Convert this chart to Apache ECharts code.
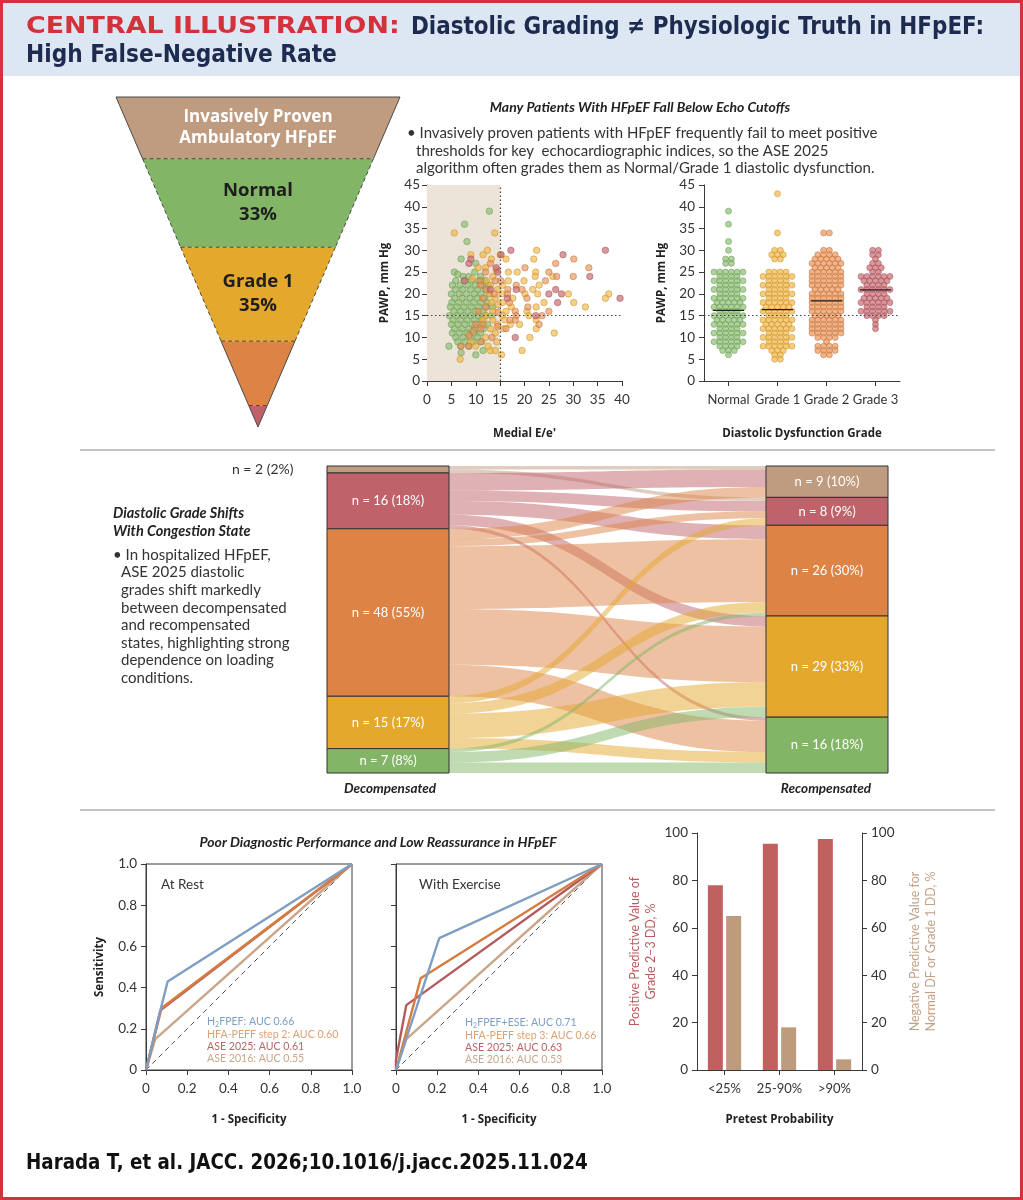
<!DOCTYPE html>
<html><head><meta charset="utf-8">
<script src="https://cdn.jsdelivr.net/npm/echarts@6/dist/echarts.min.js"></script>
<style>html,body{margin:0;padding:0;background:#fff}#c{width:1023px;height:1200px}</style>
</head><body><div id="c"></div>
<script>
// ================= DATA =================
// Funnel (ASE 2025 grade among invasively proven HFpEF)
const funnelHeader = 'Invasively Proven\nAmbulatory HFpEF';
const funnelGroups = ['Normal', 'Grade 1', 'Grade 2', 'Grade 3'];
const funnelPct = [33, 35, 24, 8];
const funnelShowLabel = [true, true, false, false];

// Scatter: [Medial E/e', PAWP]
const scatterNormal = [
 [12.8,39],[7.7,36],[8.2,32],[7,28],[10,27],[5.6,25],[7.4,24],[8.6,24],[9.8,25],[11,24],[6.3,24.5],
 [5.9,23],[7.6,23],[9.1,23],[10.6,23],[11.9,23],
 [5.2,22],[6.8,22],[8.4,22],[9.9,22],[11.3,22],[12.6,22],
 [5.8,21],[7.3,21],[8.9,21],[10.4,21],[12.0,21],
 [5.0,20],[6.6,20],[8.1,20],[9.7,20],[11.1,20],[12.8,20],
 [5.7,19],[7.2,19],[8.8,19],[10.3,19],[11.8,19],
 [5.1,18],[6.5,18],[8.0,18],[9.5,18],[11.0,18],[12.4,18],
 [4.8,17],[6.2,17],[7.6,17],[9.1,17],[10.6,17],[12.2,17],[13.4,17],
 [5.5,16],[6.9,16],[8.4,16],[9.9,16],[11.5,16],
 [4.6,15],[6.1,15],[7.5,15],[9.0,15],[10.5,15],[12.0,15],[13.2,15],
 [5.3,14],[6.8,14],[8.2,14],[9.7,14],[11.2,14],
 [5.0,13],[6.4,13],[7.8,13],[9.3,13],[10.8,13],[12.4,13],
 [5.6,12],[7.1,12],[8.6,12],[10.0,12],[11.6,12],
 [5.2,11],[6.7,11],[8.2,11],[9.6,11],[11.0,11],
 [5.9,10],[7.4,10],[8.9,10],[10.4,10],
 [6.3,9],[7.8,9],[9.5,9],[11.2,9],
 [6.9,8],[8.6,8],[4.5,8],[10,6],[11.5,7],[7,6.5]
];
const scatterGrade1 = [
 [5.6,34],[13.9,34],[12.4,30],[15,29],[9,29],[11.5,29],[13.2,28],[16.2,28],[21.9,28],[22.5,30],
 [10.5,26],[12,26],[14.2,25.5],[16.7,25],[18.5,25],[22.3,25],[13.5,24],[9.3,23.5],[22.2,24],[25.8,24],
 [16.7,23],[19.9,23],[12.2,23],[15.5,22],[23,22],[13,22],[14.5,21],[21.7,21],[15.4,20],[12.8,20],
 [20.1,20],[22.7,20],[29,20],[37.3,20],[14,19],[17.6,19],[36.6,19],[15.5,18],[13.2,18],[24,18],
 [30.1,18],[17.3,17],[22.4,17],[32.5,17],[14.6,17.5],[16.2,16],[20.5,16],[13.5,16],[15.5,15],[20.9,15],
 [12,15],[15.9,14],[22.4,14],[13.5,14],[11.5,14],[17.1,13],[19,13],[14.5,13],[15.7,12],[22.4,12],
 [13,12],[26.1,11],[21.1,10],[14,11],[12,10],[14.3,9],[19.5,7],[15.3,6],[13,7],[14,7],
 [6.8,5],[10,8],[12.5,8],[9,9]
];
const scatterGrade2 = [
 [20.1,26],[33.2,26],[26.4,27],[30.1,28],[30,24],[26.6,24],[24.3,23],[18.3,22],[16.6,21],[20.5,19],
 [16.9,18],[20.7,17],[18.1,16],[25,16],[18.3,15],[23.6,15],[18.1,14],[23,13],[13,27],[12,25],
 [11,23],[14,23],[11,22],[12.2,21],[13.8,20],[11.5,19],[12,17],[10.5,16],[14.6,15.8],[11.5,13],
 [14.5,12.5],[11,12],[13.3,10],[11,9],[8.5,8],[7,8],[8.6,10.5],[9.5,11.5],[10,13],[16.5,20],
 [17,14],[15.2,23],[16.2,12],[19.5,21],[25,25]
];
const scatterGrade3 = [
 [17.2,30],[27.9,29],[36.6,30],[33.4,24],[39.6,19],[26.4,21],[26.8,18],[25,20],[27.6,20],[18.3,21],
 [18.1,10],[14.2,26],[14.5,25],[8.6,27],[7.7,23],[9,28],[15.2,29],[22.3,15],[16.5,19],[13,21]
];

// Dot plot: [PAWP, number of patients] per grade
const gradeCats = ['Normal', 'Grade 1', 'Grade 2', 'Grade 3'];
const dotNormal = [[39,1],[36,1],[32,1],[30,1],[28,2],[27,2],[25,6],[24,4],[23,6],[22,4],[21,6],[20,4],[19,6],[18,5],[17,6],[16,4],[15,6],[14,5],[13,6],[12,4],[11,6],[10,4],[9,6],[8,4],[7,3],[6,1]];
const dotGrade1 = [[43,1],[34,1],[30,2],[29,3],[28,2],[25,4],[24,6],[23,4],[22,6],[21,4],[20,6],[19,4],[18,6],[17,5],[16,6],[15,4],[14,6],[13,5],[12,6],[11,4],[10,6],[9,4],[8,6],[7,3],[6,2],[5,2]];
const dotGrade2 = [[34,2],[30,2],[29,4],[28,5],[27,6],[26,5],[25,6],[24,6],[23,6],[22,6],[21,5],[20,6],[19,6],[18,6],[17,6],[16,6],[15,5],[14,6],[13,6],[12,6],[11,6],[10,4],[9,1],[8,4],[7,4],[6,2]];
const dotGrade3 = [[30,2],[29,2],[28,1],[27,2],[26,3],[25,2],[24,6],[23,5],[22,4],[21,6],[20,4],[19,5],[18,6],[17,4],[16,6],[15,4],[14,1],[13,1],[12,1]];
const gradeMeans = [16.2, 16.4, 18.4, 20.9];
const pawpCutoff = 15;
const eeCutoff = 15;

// Sankey
const sankeyLeftN = [2, 16, 48, 15, 7];   // Decompensated: other, G3, G2, G1, Normal
const sankeyRightN = [9, 8, 26, 29, 16];  // Recompensated
const sankeyFlows = [
 [1, 1, 0, 0, 0],
 [5, 3, 4, 3, 1],
 [3, 2, 18, 16, 9],
 [0, 2, 3, 7, 3],
 [0, 0, 1, 3, 3]
];

// ROC curves: [1-specificity, sensitivity]
const rocRestH2 = [[0,0],[0.065,0.27],[0.105,0.43],[1,1]];
const rocRestHFA = [[0,0],[0.075,0.30],[1,1]];
const rocRestASE25 = [[0,0],[0.07,0.29],[1,1]];
const rocRestASE16 = [[0,0],[0.045,0.15],[1,1]];
const rocRestLegend = ['H2FPEF: AUC 0.66', 'HFA-PEFF step 2: AUC 0.60', 'ASE 2025: AUC 0.61', 'ASE 2016: AUC 0.55'];
const rocExH2 = [[0,0],[0.21,0.64],[1,1]];
const rocExHFA = [[0,0],[0.12,0.445],[1,1]];
const rocExASE25 = [[0,0],[0,0.05],[0.05,0.315],[1,1]];
const rocExASE16 = [[0,0],[0.05,0.15],[1,1]];
const rocExLegend = ['H2FPEF+ESE: AUC 0.71', 'HFA-PEFF step 3: AUC 0.66', 'ASE 2025: AUC 0.63', 'ASE 2016: AUC 0.53'];

// Predictive values
const pretestCats = ['<25%', '25-90%', '>90%'];
const ppvValues = [78, 95.5, 97.5];
const npvValues = [65, 18, 4.5];

// ================= STYLE =================
const C = {
  brown: '#bf9b80', red: '#c0626a', orange: '#dd8346', yellow: '#e4a82d', green: '#82b566',
  ink: '#333333', axis: '#3a3a3a',
  blue: '#7f9ec3', rocOrange: '#d57c40', rocRed: '#b45a5c', tan: '#c9a78b'
};
const FB = 'Lato, "Open Sans", sans-serif';
const FN = '"DejaVu Sans", sans-serif';

function axisBase(extra) {
  return Object.assign({
    axisLine: { show: true, onZero: false, lineStyle: { color: C.axis, width: 1 } },
    axisTick: { show: true, length: 5, lineStyle: { color: C.axis } },
    axisLabel: { color: C.ink, fontSize: 13.5, fontFamily: FB },
    splitLine: { show: false },
    nameTextStyle: { color: '#222', fontSize: 11.5, fontWeight: 'bold', fontFamily: '"Open Sans", sans-serif' }
  }, extra);
}

// ---------- funnel geometry (from data) ----------
const HEADER_U = 23;
const funnelTotal = funnelPct.reduce((a, b) => a + b, 0) + HEADER_U;
const funnelItems = [];
(function () {
  let top = funnelTotal;
  funnelItems.push({ y1: top, y0: top - HEADER_U, color: C.brown, text: funnelHeader, header: true, dashedSides: false });
  top -= HEADER_U;
  const cols = [C.green, C.yellow, C.orange, C.red];
  funnelPct.forEach((p, i) => {
    funnelItems.push({
      y1: top, y0: top - p, color: cols[i],
      text: funnelShowLabel[i] ? funnelGroups[i] + '\n' + p + '%' : '',
      header: false, dashedSides: i < 2
    });
    top -= p;
  });
})();

// ---------- dot plot layout (beeswarm rows) ----------
function swarm(counts, gi) {
  const out = [];
  counts.forEach(([v, n]) => {
    for (let k = 0; k < n; k++) out.push([gi + 0.5 + (k - (n - 1) / 2) * 0.118, v]);
  });
  return out;
}

// ---------- sankey nodes/links ----------
const sankeyColors = [C.brown, C.red, C.orange, C.yellow, C.green];
const totalL = sankeyLeftN.reduce((a, b) => a + b, 0);
const totalR = sankeyRightN.reduce((a, b) => a + b, 0);
const sNodes = [];
sankeyLeftN.forEach((n, i) => {
  const lab = 'n = ' + n + ' (' + Math.round(n / totalL * 100) + '%)';
  sNodes.push({
    name: 'L' + i, depth: 0, itemStyle: { color: sankeyColors[i] },
    label: i === 0 ? { show: true, position: 'left', distance: 33, color: '#333', fontSize: 14, formatter: lab }
                   : { show: true, position: 'inside', color: '#fff', formatter: lab }
  });
});
sankeyRightN.forEach((n, i) => {
  sNodes.push({ name: 'R' + i, depth: 1, itemStyle: { color: sankeyColors[i] },
    label: { show: true, position: 'inside', color: '#fff', formatter: 'n = ' + n + ' (' + Math.round(n / totalR * 100) + '%)' } });
});
const sLinks = [];
sankeyFlows.forEach((row, i) => row.forEach((v, j) => { if (v > 0) sLinks.push({ source: 'L' + i, target: 'R' + j, value: v }); }));

function rocLine(data, color, width, xi, yi, z, dash) {
  return { type: 'line', xAxisIndex: xi, yAxisIndex: yi, data: data, symbol: 'none', silent: true, z: z || 3,
    lineStyle: { color: color, width: width, type: dash || 'solid' }, animation: false };
}

// ================= TEXT =================
const T = [];
function txt(x, y, text, o, sx) {
  const el = { type: 'text', x: x, y: y, silent: true, z: 100, style: Object.assign({
    text: text, fill: C.ink, fontSize: 15, fontFamily: FB, textAlign: 'left', textVerticalAlign: 'middle'
  }, o || {}) };
  if (sx) el.scaleX = sx;
  T.push(el);
}
// frame + header
T.push({ type: 'rect', shape: { x: 2, y: 2, width: 1019, height: 74 }, style: { fill: '#dde6f3' }, z: 1, silent: true });
T.push({ type: 'rect', shape: { x: 1.5, y: 1.5, width: 1020, height: 1197 }, style: { fill: 'none', stroke: '#d2343d', lineWidth: 3 }, z: 101, silent: true });
txt(26, 27, 'CENTRAL ILLUSTRATION:', { fill: '#d4323b', fontSize: 23.5, fontWeight: 'bold', fontFamily: FN }, 1.144);
txt(411, 27, 'Diastolic Grading \u2260 Physiologic Truth in HFpEF:', { fill: '#1c2b4f', fontSize: 25, fontWeight: 'bold', fontFamily: FN }, 0.86);
txt(26, 55, 'High False-Negative Rate', { fill: '#1c2b4f', fontSize: 25, fontWeight: 'bold', fontFamily: FN }, 0.87);
// separators
T.push({ type: 'line', shape: { x1: 80, y1: 450, x2: 995, y2: 450 }, style: { stroke: '#8a8a8a', lineWidth: 1 }, silent: true });
T.push({ type: 'line', shape: { x1: 80, y1: 810, x2: 995, y2: 810 }, style: { stroke: '#8a8a8a', lineWidth: 1 }, silent: true });
// panel A text
txt(640, 107, 'Many Patients With HFpEF Fall Below Echo Cutoffs', { textAlign: 'center', fontSize: 14, fontWeight: 'bold', fontStyle: 'italic', fill: '#222' });
txt(407, 133, '\u2022 Invasively proven patients with HFpEF frequently fail to meet positive');
txt(416, 151, 'thresholds for key  echocardiographic indices, so the ASE 2025');
txt(416, 168, 'algorithm often grades them as Normal/Grade 1 diastolic dysfunction.');
// panel B text
txt(113, 513, 'Diastolic Grade Shifts', { fontSize: 14.5, fontWeight: 'bold', fontStyle: 'italic', fill: '#222' });
txt(113, 531, 'With Congestion State', { fontSize: 14.5, fontWeight: 'bold', fontStyle: 'italic', fill: '#222' });
const bLines = ['In hospitalized HFpEF,', 'ASE 2025 diastolic', 'grades shift markedly', 'between decompensated',
  'and recompensated', 'states, highlighting strong', 'dependence on loading', 'conditions.'];
bLines.forEach((s, i) => txt(i === 0 ? 113 : 121, 555 + i * 17.6, (i === 0 ? '\u2022 ' : '') + s));
txt(390, 789, 'Decompensated', { textAlign: 'center', fontSize: 13.5, fontWeight: 'bold', fontStyle: 'italic', fill: '#222' });
txt(826, 789, 'Recompensated', { textAlign: 'center', fontSize: 13.5, fontWeight: 'bold', fontStyle: 'italic', fill: '#222' });
// panel C text
txt(378, 842, 'Poor Diagnostic Performance and Low Reassurance in HFpEF', { textAlign: 'center', fontSize: 14, fontWeight: 'bold', fontStyle: 'italic', fill: '#222' });
txt(161, 885, 'At Rest', { fontSize: 13.5 });
txt(419, 885, 'With Exercise', { fontSize: 13.5 });
const legCols = [C.blue, '#dba173', '#b86468', C.tan];
function rocLegend(x, y0, labels) {
  labels.forEach((s, i) => {
    let t = s.indexOf('H2') === 0 ? '{a|H}{s|2}{a|' + s.slice(2) + '}' : '{a|' + s + '}';
    txt(x, y0 + i * 12.3, t, { rich: {
      a: { fill: legCols[i], fontSize: 10.6, fontFamily: FB },
      s: { fill: legCols[i], fontSize: 7, fontFamily: FB, padding: [5, 0, 0, 0] } } });
  });
}
rocLegend(207, 1022, rocRestLegend);
rocLegend(465, 1023, rocExLegend);
// footer
txt(26, 1164, 'Harada T, et al. JACC. 2026;10.1016/j.jacc.2025.11.024', { fontSize: 21, fontWeight: 'bold', fontFamily: FN, fill: '#111' }, 0.871);

// ================= OPTION =================
const scatterStyle = (fill, stroke) => ({ color: fill, borderColor: stroke, borderWidth: 0.7 });
const option = {
  animation: false,
  backgroundColor: '#ffffff',
  graphic: T,
  grid: [
    { left: 116, top: 97, width: 284, height: 330 },            // 0 funnel
    { left: 427, top: 185, width: 195, height: 196 },           // 1 E/e' scatter
    { left: 704, top: 185, width: 196, height: 196 },           // 2 dot plot
    { left: 146, top: 864, width: 206, height: 206, show: true, borderColor: '#3a3a3a', borderWidth: 1 }, // 3 ROC rest
    { left: 396, top: 864, width: 206, height: 206, show: true, borderColor: '#3a3a3a', borderWidth: 1 }, // 4 ROC exercise
    { left: 697, top: 833, width: 165, height: 237 }            // 5 bars
  ],
  xAxis: [
    { gridIndex: 0, type: 'value', min: 0, max: 1, show: false },
    axisBase({ gridIndex: 1, type: 'value', min: 0, max: 40, interval: 5, name: "Medial E/e'", nameLocation: 'middle', nameGap: 47,
      axisLabel: { color: C.ink, fontSize: 13.5, fontFamily: FB, margin: 12 } }),
    axisBase({ gridIndex: 2, type: 'category', data: gradeCats, boundaryGap: true, name: 'Diastolic Dysfunction Grade', nameLocation: 'middle', nameGap: 47,
      axisTick: { show: true, alignWithLabel: true, length: 5, lineStyle: { color: C.axis } },
      axisLabel: { color: C.ink, fontSize: 13, fontFamily: FB, margin: 12, interval: 0 } }),
    { gridIndex: 2, type: 'value', min: 0, max: 4, show: false },
    axisBase({ gridIndex: 3, type: 'value', min: 0, max: 1, interval: 0.2, name: '1 - Specificity', nameLocation: 'middle', nameGap: 44,
      axisLabel: { color: C.ink, fontSize: 13.5, fontFamily: FB, margin: 12, formatter: v => v === 0 ? '0' : v.toFixed(1) } }),
    axisBase({ gridIndex: 4, type: 'value', min: 0, max: 1, interval: 0.2, name: '1 - Specificity', nameLocation: 'middle', nameGap: 44,
      axisLabel: { color: C.ink, fontSize: 13.5, fontFamily: FB, margin: 12, formatter: v => v === 0 ? '0' : v.toFixed(1) } }),
    axisBase({ gridIndex: 5, type: 'category', data: pretestCats, name: 'Pretest Probability', nameLocation: 'middle', nameGap: 44,
      axisTick: { show: true, alignWithLabel: true, length: 5, lineStyle: { color: C.axis } },
      axisLabel: { color: C.ink, fontSize: 13, fontFamily: FB, margin: 12, interval: 0 } })
  ],
  yAxis: [
    { gridIndex: 0, type: 'value', min: 0, max: funnelTotal, show: false },
    axisBase({ gridIndex: 1, type: 'value', min: 0, max: 45, interval: 5, name: 'PAWP, mm Hg', nameLocation: 'middle', nameGap: 36,
      axisLabel: { color: C.ink, fontSize: 13.5, fontFamily: FB, margin: 7 } }),
    axisBase({ gridIndex: 2, type: 'value', min: 0, max: 45, interval: 5, name: 'PAWP, mm Hg', nameLocation: 'middle', nameGap: 36,
      axisLabel: { color: C.ink, fontSize: 13.5, fontFamily: FB, margin: 9 } }),
    axisBase({ gridIndex: 3, type: 'value', min: 0, max: 1, interval: 0.2, name: 'Sensitivity', nameLocation: 'middle', nameGap: 40,
      axisLabel: { color: C.ink, fontSize: 13.5, fontFamily: FB, margin: 9, formatter: v => v === 0 ? '0' : v.toFixed(1) } }),
    axisBase({ gridIndex: 4, type: 'value', min: 0, max: 1, interval: 0.2, axisLabel: { show: false } }),
    axisBase({ gridIndex: 5, type: 'value', min: 0, max: 100, interval: 20, position: 'left',
      name: 'Positive Predictive Value of\nGrade 2\u20133 DD, %', nameLocation: 'middle', nameGap: 38,
      nameTextStyle: { color: '#b95a5c', fontSize: 12.5, fontFamily: FB, lineHeight: 16 },
      axisLabel: { color: C.ink, fontSize: 13.5, fontFamily: FB, margin: 9 } }),
    axisBase({ gridIndex: 5, type: 'value', min: 0, max: 100, interval: 20, position: 'right',
      name: 'Negative Predictive Value for\nNormal DF or Grade 1 DD, %', nameLocation: 'middle', nameGap: 45, nameRotate: 90,
      nameTextStyle: { color: '#c4a186', fontSize: 12.5, fontFamily: FB, lineHeight: 16 },
      axisLabel: { color: C.ink, fontSize: 13.5, fontFamily: FB, margin: 9 } })
  ],
  series: [
    // ---- funnel ----
    {
      type: 'custom', xAxisIndex: 0, yAxisIndex: 0, silent: true, z: 2,
      data: funnelItems.map((f, i) => [i, f.y0, f.y1]),
      renderItem: function (params, api) {
        const f = funnelItems[params.dataIndex];
        const y0 = api.value(1), y1 = api.value(2);
        const hw = y => 0.5 * y / funnelTotal;
        const p = (x, y) => api.coord([x, y]);
        const a = p(0.5 - hw(y1), y1), b = p(0.5 + hw(y1), y1), c = p(0.5 + hw(y0), y0), d = p(0.5 - hw(y0), y0);
        const edge = '#4a4a4a';
        const kids = [
          { type: 'polygon', shape: { points: [a, b, c, d] }, style: { fill: f.color } },
          { type: 'line', shape: { x1: a[0], y1: a[1], x2: b[0], y2: b[1] },
            style: { stroke: edge, lineWidth: 1, lineDash: f.header ? null : [4, 3] } },
          { type: 'line', shape: { x1: a[0], y1: a[1], x2: d[0], y2: d[1] },
            style: { stroke: edge, lineWidth: 1, lineDash: f.dashedSides ? [4, 3] : null } },
          { type: 'line', shape: { x1: b[0], y1: b[1], x2: c[0], y2: c[1] },
            style: { stroke: edge, lineWidth: 1, lineDash: f.dashedSides ? [4, 3] : null } }
        ];
        if (f.text) {
          const m = p(0.5, (y0 + y1) / 2);
          kids.push({ type: 'text', x: m[0], y: m[1], style: {
            text: f.text, textAlign: 'center', textVerticalAlign: 'middle',
            fill: f.header ? '#ffffff' : '#1e1e1e', fontSize: f.header ? 17 : 18.5, fontWeight: 'bold',
            fontFamily: '"Open Sans", Lato, sans-serif', lineHeight: f.header ? 21 : 24 } });
        }
        return { type: 'group', children: kids };
      }
    },
    // ---- E/e' scatter: shaded zone + cut-off lines (no points) ----
    {
      type: 'scatter', xAxisIndex: 1, yAxisIndex: 1, data: [], z: 1, silent: true,
      markArea: { silent: true, itemStyle: { color: '#ece3d9' }, data: [[{ xAxis: 0, yAxis: 0 }, { xAxis: eeCutoff, yAxis: 45 }]] },
      markLine: { silent: true, symbol: 'none', label: { show: false },
        lineStyle: { color: '#444', type: [1.5, 2.5], width: 1.2 },
        data: [{ xAxis: eeCutoff }, { yAxis: pawpCutoff }] }
    },
    { type: 'scatter', xAxisIndex: 1, yAxisIndex: 1, data: scatterNormal, symbolSize: 6.5, z: 3,
      itemStyle: scatterStyle('rgba(137,190,110,0.82)', 'rgba(104,150,84,0.9)') },
    { type: 'scatter', xAxisIndex: 1, yAxisIndex: 1, data: scatterGrade1, symbolSize: 6.5, z: 4,
      itemStyle: scatterStyle('rgba(240,181,66,0.8)', 'rgba(200,140,40,0.9)') },
    { type: 'scatter', xAxisIndex: 1, yAxisIndex: 1, data: scatterGrade2, symbolSize: 6.5, z: 4,
      itemStyle: scatterStyle('rgba(233,146,84,0.8)', 'rgba(190,110,60,0.9)') },
    { type: 'scatter', xAxisIndex: 1, yAxisIndex: 1, data: scatterGrade3, symbolSize: 6.5, z: 5,
      itemStyle: scatterStyle('rgba(200,104,112,0.85)', 'rgba(160,80,86,0.9)') },
    // ---- dot plot ----
    { type: 'scatter', xAxisIndex: 3, yAxisIndex: 2, data: swarm(dotNormal, 0), symbolSize: 6, z: 3,
      itemStyle: scatterStyle('rgba(137,190,110,0.85)', 'rgba(104,150,84,0.9)'),
      markLine: { silent: true, symbol: 'none', label: { show: false },
        lineStyle: { color: '#444', type: [1.5, 2.5], width: 1.2 }, data: [{ yAxis: pawpCutoff }] } },
    { type: 'scatter', xAxisIndex: 3, yAxisIndex: 2, data: swarm(dotGrade1, 1), symbolSize: 6, z: 3,
      itemStyle: scatterStyle('rgba(240,181,66,0.85)', 'rgba(200,140,40,0.9)') },
    { type: 'scatter', xAxisIndex: 3, yAxisIndex: 2, data: swarm(dotGrade2, 2), symbolSize: 6, z: 3,
      itemStyle: scatterStyle('rgba(233,146,84,0.85)', 'rgba(190,110,60,0.9)') },
    { type: 'scatter', xAxisIndex: 3, yAxisIndex: 2, data: swarm(dotGrade3, 3), symbolSize: 6, z: 3,
      itemStyle: scatterStyle('rgba(200,104,112,0.85)', 'rgba(160,80,86,0.9)') },
    {
      type: 'custom', xAxisIndex: 3, yAxisIndex: 2, silent: true, z: 6,
      data: gradeMeans.map((m, i) => [i + 0.5, m]),
      renderItem: function (params, api) {
        const a = api.coord([api.value(0) - 0.32, api.value(1)]);
        const b = api.coord([api.value(0) + 0.32, api.value(1)]);
        return { type: 'line', shape: { x1: a[0], y1: a[1], x2: b[0], y2: b[1] }, style: { stroke: '#1e1e1e', lineWidth: 1.3 } };
      }
    },
    // ---- sankey ----
    {
      type: 'sankey', left: 327, top: 466, width: 561, height: 307,
      nodeWidth: 122, nodeGap: 0, layoutIterations: 0, draggable: false, silent: true,
      emphasis: { disabled: true },
      data: sNodes, links: sLinks,
      itemStyle: { borderColor: '#333', borderWidth: 1 },
      lineStyle: { color: 'source', opacity: 0.5, curveness: 0.5 },
      label: { show: true, position: 'inside', color: '#ffffff', fontSize: 13, fontFamily: FB }
    },
    // ---- ROC at rest (grid 3: xAxis 4, yAxis 3) ----
    rocLine([[0, 0], [1, 1]], '#555', 1, 4, 3, 2, [5, 4]),
    rocLine(rocRestASE16, C.tan, 2.4, 4, 3),
    rocLine(rocRestASE25, C.rocRed, 2.4, 4, 3),
    rocLine(rocRestHFA, C.rocOrange, 2.6, 4, 3),
    rocLine(rocRestH2, C.blue, 2.4, 4, 3),
    // ---- ROC with exercise (grid 4: xAxis 5, yAxis 4) ----
    rocLine([[0, 0], [1, 1]], '#555', 1, 5, 4, 2, [5, 4]),
    rocLine(rocExASE16, C.tan, 2.4, 5, 4),
    rocLine(rocExASE25, C.rocRed, 2.4, 5, 4),
    rocLine(rocExHFA, C.rocOrange, 2.4, 5, 4),
    rocLine(rocExH2, C.blue, 2.4, 5, 4),
    // ---- predictive values ----
    { type: 'bar', xAxisIndex: 6, yAxisIndex: 5, data: ppvValues, barWidth: 15, barGap: '22%', itemStyle: { color: '#c0605f' }, silent: true },
    { type: 'bar', xAxisIndex: 6, yAxisIndex: 6, data: npvValues, barWidth: 15, barGap: '22%', itemStyle: { color: '#be9b7c' }, silent: true }
  ]
};

const chart = echarts.init(document.getElementById('c'), null, { renderer: 'canvas', width: 1023, height: 1200 });
chart.setOption(option);
</script>
</body></html>
